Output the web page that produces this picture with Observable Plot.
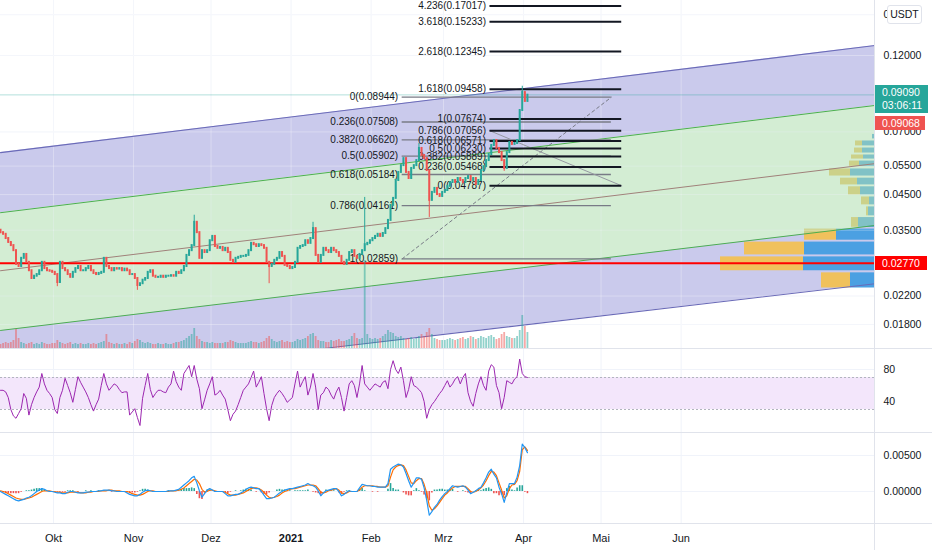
<!DOCTYPE html>
<html><head><meta charset="utf-8">
<script src="https://cdn.jsdelivr.net/npm/d3@7"></script>
<script src="https://cdn.jsdelivr.net/npm/@observablehq/plot@0.6"></script>
<style>
html,body{margin:0;padding:0;background:#fff;}
#wrap{position:relative;width:932px;height:550px;overflow:hidden;font-family:"Liberation Sans",Arial,sans-serif;}
.pane{position:absolute;left:0;overflow:hidden;}
.box{position:absolute;font-size:10.5px;line-height:13px;color:#fff;padding-left:7px;box-sizing:border-box;}
.sep{position:absolute;background:#e0e3eb;}
</style></head><body><div id="wrap"></div>
<script>
// ---------------- DATA ----------------
const firstDay = "2020-09-10";
const firstOpen = 0.0350;
const closes = [
0.0344,0.0340,0.0330,0.0321,0.0314,0.0303,0.0275,0.0271,0.0287,0.0295,
0.0279,0.0263,0.0249,0.0253,0.0256,0.0263,0.0279,0.0267,0.0263,0.0262,
0.0260,0.0256,0.0242,0.0279,0.0267,0.0263,0.0256,0.0251,0.0260,0.0267,
0.0271,0.0263,0.0263,0.0267,0.0271,0.0263,0.0258,0.0256,0.0258,0.0260,
0.0287,0.0271,0.0267,0.0263,0.0267,0.0266,0.0267,0.0263,0.0266,0.0263,
0.0256,0.0256,0.0249,0.0237,0.0240,0.0246,0.0249,0.0260,0.0263,0.0253,
0.0251,0.0251,0.0253,0.0251,0.0253,0.0253,0.0254,0.0253,0.0260,0.0258,
0.0263,0.0271,0.0293,0.0303,0.0314,0.0370,0.0344,0.0287,0.0303,0.0299,
0.0303,0.0325,0.0335,0.0312,0.0308,0.0310,0.0303,0.0308,0.0299,0.0283,
0.0279,0.0287,0.0289,0.0291,0.0291,0.0293,0.0303,0.0319,0.0316,0.0312,
0.0316,0.0314,0.0308,0.0279,0.0271,0.0275,0.0283,0.0287,0.0299,0.0291,
0.0273,0.0271,0.0267,0.0269,0.0279,0.0308,0.0312,0.0314,0.0325,0.0319,
0.0330,0.0354,0.0293,0.0279,0.0293,0.0308,0.0303,0.0299,0.0308,0.0303,
0.0299,0.0291,0.0279,0.0275,0.0283,0.0299,0.0303,0.0291,0.0287,0.0295,
0.0303,0.0316,0.0319,0.0325,0.0330,0.0335,0.0340,0.0335,0.0342,0.0354,
0.0375,0.0417,0.0438,0.0497,0.0526,0.0552,0.0580,0.0526,0.0504,0.0541,
0.0552,0.0572,0.0623,0.0593,0.0580,0.0533,0.0432,0.0457,0.0470,0.0450,
0.0444,0.0457,0.0463,0.0477,0.0490,0.0497,0.0490,0.0504,0.0497,0.0490,
0.0504,0.0511,0.0497,0.0504,0.0483,0.0497,0.0533,0.0548,0.0572,0.0597,
0.0636,0.0659,0.0623,0.0605,0.0572,0.0541,0.0605,0.0650,0.0641,0.0645,
0.0659,0.0814,0.0924,0.0868,0.0907];
const wickHighs = [["2020-11-24",0.0389],["2021-01-09",0.0370],["2021-01-29",0.0441],["2021-02-19",0.0645],["2021-03-31",0.0966]];
const wickLows = [["2020-10-02",0.0235],["2020-11-02",0.0229],["2020-12-23",0.0240],["2021-02-23",0.0383],["2021-03-24",0.0530]];
const volumes = [
4,5,6,5,6,8,19,10,6,5,4,5,6,4,5,4,6,5,4,4,5,
5,8,6,5,4,5,6,4,5,4,5,4,4,5,4,5,4,5,6,7,14,6,5,4,5,4,4,5,4,6,5,
7,9,8,6,5,6,5,4,4,5,4,4,5,4,4,5,6,6,7,8,10,12,14,20,12,9,7,6,6,5,
6,5,5,5,5,6,6,8,7,6,5,5,5,5,6,7,6,6,5,6,7,10,12,9,7,6,7,8,6,7,6,
6,7,9,8,9,10,12,14,15,12,8,7,7,6,6,8,7,8,9,7,7,8,9,12,15,10,9,10,88,14,10,
9,10,9,10,12,14,18,16,15,12,11,12,10,9,10,11,9,10,12,14,12,16,20,14,10,9,8,8,
8,9,10,9,8,9,10,11,9,10,12,11,9,10,12,11,10,12,13,11,9,10,14,16,12,11,10,10,12,18,33,22,16];
const rsi = [
54,54,52,45,30,22,19,25,31,50, 44,23,36,45,52,58,75,62,54,50,
45,30,25,45,54,69,60,51,39,55, 71,64,58,52,45,36,28,36,43,60,
75,62,54,58,62,60,55,51,52,52, 23,27,31,20,10,44,60,75,55,45,
50,54,54,52,51,58,62,78,65,58, 54,75,80,85,71,85,68,56,31,42,
54,62,71,48,50,54,48,43,30,16, 24,28,36,45,54,58,62,70,78,58,
64,71,50,31,16,35,45,50,54,50, 45,39,42,45,62,78,58,65,71,48,
58,75,58,30,48,51,58,55,48,43, 52,58,45,28,45,62,66,60,45,62,
85,62,58,54,58,62,60,58,64,66, 56,80,91,80,75,83,66,45,55,71,
60,58,55,51,40,19,30,36,40,45, 50,54,60,66,58,62,68,71,62,70,
75,51,40,34,50,62,71,60,54,78, 86,83,60,51,31,45,66,64,62,68,
71,93,75,71,70];
const macd = [
0.0000,-0.0002,-0.0004,-0.0006,-0.0008,-0.0010,-0.0012,-0.0013,-0.0012,-0.0011,
-0.0009,-0.0008,-0.0006,-0.0003,0.0000,0.0002,0.0004,0.0003,0.0001,0.0000,
0.0000,-0.0001,-0.0002,-0.0002,-0.0003,-0.0003,-0.0001,0.0000,0.0000,-0.0001,
-0.0002,-0.0002,-0.0002,-0.0001,-0.0001,0.0000,0.0000,0.0000,0.0001,0.0001,
0.0002,0.0002,0.0002,0.0001,0.0001,0.0000,0.0000,0.0000,0.0000,-0.0002,
-0.0004,-0.0005,-0.0006,-0.0006,-0.0004,-0.0001,0.0001,0.0002,0.0001,0.0000,
0.0000,0.0000,0.0000,0.0000,0.0000,0.0001,0.0001,0.0001,0.0002,0.0003,
0.0006,0.0009,0.0012,0.0015,0.0019,0.0021,0.0012,0.0001,-0.0008,-0.0003,
0.0002,0.0004,0.0002,0.0000,0.0000,0.0000,0.0000,-0.0003,-0.0006,-0.0006,
-0.0005,-0.0004,-0.0004,-0.0002,0.0000,0.0003,0.0005,0.0006,0.0005,0.0004,
0.0004,0.0000,-0.0005,-0.0010,-0.0010,-0.0009,-0.0008,-0.0005,-0.0002,0.0000,
0.0002,0.0003,0.0004,0.0004,0.0005,0.0006,0.0007,0.0008,0.0009,0.0011,
0.0009,0.0008,0.0006,0.0001,-0.0006,-0.0002,0.0001,0.0002,0.0003,0.0004,
0.0004,0.0000,-0.0006,-0.0004,-0.0001,0.0001,0.0000,0.0000,0.0000,0.0005,
0.0010,0.0009,0.0008,0.0008,0.0007,0.0007,0.0006,0.0006,0.0006,0.0006,
0.0011,0.0031,0.0034,0.0036,0.0038,0.0037,0.0034,0.0025,0.0015,0.0006,
0.0012,0.0019,0.0019,0.0017,0.0005,-0.0012,-0.0033,-0.0028,-0.0022,-0.0018,
-0.0012,-0.0007,-0.0003,0.0000,0.0004,0.0008,0.0007,0.0006,0.0007,0.0008,
0.0006,0.0002,-0.0003,-0.0001,0.0001,0.0004,0.0006,0.0012,0.0019,0.0027,
0.0031,0.0024,0.0019,0.0006,-0.0003,-0.0015,-0.0002,0.0011,0.0011,0.0011,
0.0020,0.0036,0.0066,0.0061,0.0054];
const signal = [
0.0001,0.0000,-0.0001,-0.0003,-0.0005,-0.0007,-0.0009,-0.0010,-0.0011,-0.0011,
-0.0010,-0.0009,-0.0008,-0.0006,-0.0004,-0.0002,0.0000,0.0001,0.0001,0.0001,
0.0000,0.0000,-0.0001,-0.0001,-0.0002,-0.0002,-0.0002,-0.0001,-0.0001,-0.0001,
-0.0001,-0.0002,-0.0002,-0.0002,-0.0001,-0.0001,0.0000,0.0000,0.0000,0.0001,
0.0001,0.0001,0.0002,0.0002,0.0001,0.0001,0.0001,0.0000,0.0000,0.0000,
-0.0001,-0.0003,-0.0004,-0.0005,-0.0005,-0.0004,-0.0002,0.0000,0.0001,0.0001,
0.0000,0.0000,0.0000,0.0000,0.0000,0.0000,0.0001,0.0001,0.0001,0.0002,
0.0003,0.0005,0.0008,0.0011,0.0014,0.0017,0.0016,0.0011,0.0003,-0.0001,
0.0000,0.0002,0.0002,0.0001,0.0000,0.0000,0.0000,-0.0001,-0.0003,-0.0005,
-0.0005,-0.0005,-0.0004,-0.0003,-0.0002,0.0000,0.0002,0.0004,0.0005,0.0005,
0.0004,0.0002,-0.0001,-0.0005,-0.0008,-0.0009,-0.0008,-0.0007,-0.0005,-0.0002,
0.0000,0.0001,0.0003,0.0004,0.0004,0.0005,0.0006,0.0007,0.0008,0.0009,
0.0009,0.0009,0.0008,0.0004,-0.0001,-0.0002,-0.0001,0.0001,0.0002,0.0003,
0.0004,0.0002,-0.0002,-0.0003,-0.0002,0.0000,0.0000,0.0000,0.0000,0.0002,
0.0006,0.0008,0.0008,0.0008,0.0008,0.0007,0.0007,0.0006,0.0006,0.0006,
0.0008,0.0020,0.0030,0.0034,0.0036,0.0037,0.0036,0.0030,0.0021,0.0012,
0.0011,0.0015,0.0018,0.0018,0.0010,-0.0002,-0.0020,-0.0026,-0.0024,-0.0020,
-0.0015,-0.0010,-0.0005,-0.0002,0.0002,0.0005,0.0007,0.0007,0.0007,0.0007,
0.0007,0.0004,0.0000,-0.0001,0.0000,0.0002,0.0005,0.0009,0.0015,0.0022,
0.0028,0.0027,0.0022,0.0012,0.0002,-0.0009,-0.0006,0.0004,0.0009,0.0010,
0.0015,0.0028,0.0058,0.0062,0.0057];

// channel (left end, right end)
const chanDates = ["2020-09-10T12:00Z","2021-08-15T06:00Z"];
const chanTop = [0.0605, 0.1288];
const chanGreenTop = [0.0396, 0.0844];
const chanMid = [0.0263, 0.0560];
const chanGreenBot = [0.01726, 0.0362];
const chanBottom = [0.01163, 0.0240];

// volume profile rows
const profLow  = [0.0232,0.0262,0.0293,0.0325,0.0356,0.0386,0.0417,0.0447,0.0480,0.0511,0.0546,0.0576,0.0601,0.0632,0.0664];
const profHigh = [0.0260,0.0291,0.0323,0.0354,0.0384,0.0414,0.0444,0.0477,0.0507,0.0541,0.0572,0.0597,0.0627,0.0659,0.0690];
const profUp   = [25,72,71,39,17,7,6,15,18,25,16,12,13,13,3];
const profDown = [29,83,60,32,7,2,8,12,17,21,10,12,8,7,0];

// fibonacci
const retraceLevels = ["0","0.236","0.382","0.5","0.618","0.786","1"];
const retracePrices = [0.08944,0.07508,0.06620,0.05902,0.05184,0.04161,0.02859];
const retraceSpan = ["2021-02-13","2021-05-05"];
const extLevels = ["4.236","3.618","2.618","1.618","1","0.786","0.618","0.5","0.382","0.236","0"];
const extPrices = [0.17017,0.15233,0.12345,0.09458,0.07674,0.07056,0.06571,0.06230,0.05889,0.05468,0.04787];
const extSpan = ["2021-03-19","2021-05-09"];
const retraceDiag = [["2021-02-13",0.02859],["2021-05-05",0.08944]];
const extDiag = [["2021-03-19",0.07056],["2021-05-09",0.04787]];

const lastPrice = 0.09090, prevPrice = 0.09068, countdown = "03:06:11";
const hLine = 0.02770;
const priceTicks = [0.16,0.12,0.07,0.055,0.045,0.035,0.022,0.018];
const rsiTicks = [80,40];
const rsiBand = [30,70];
const macdTicks = [0.005,0];
const monthDates = ["2020-10-01","2020-11-01","2020-12-01","2021-01-01","2021-02-01","2021-03-01","2021-04-01","2021-05-01","2021-06-01"];
const monthLabels = ["Okt","Nov","Dez","2021","Feb","Mrz","Apr","Mai","Jun"];

// ---------------- BUILD ----------------
const W = 932, MR = 57;
const xDomain = [new Date("2020-09-10T12:00Z"), new Date("2021-08-15T06:00Z")];
const fmtDay = d3.utcFormat("%Y-%m-%d");
const hiMap = new Map(wickHighs), loMap = new Map(wickLows);
const t0 = new Date(firstDay + "T12:00Z");
const candles = closes.map((c,i)=>{
  const date = d3.utcDay.offset(t0, i);
  const open = i===0 ? firstOpen : closes[i-1];
  const key = fmtDay(date);
  return {date, open, close:c,
    high: hiMap.has(key) ? hiMap.get(key) : Math.max(open,c),
    low: loMap.has(key) ? loMap.get(key) : Math.min(open,c),
    vol: volumes[i], rsi: rsi[i], macd: macd[i], signal: signal[i], hist: macd[i]-signal[i]};
});
const up = "#26a69a", down = "#ef5350";
const cCol = d => d.close >= d.open ? up : down;
const vCol = d => d.close >= d.open ? "rgba(38,166,154,0.5)" : "rgba(239,83,80,0.5)";

const chan = chanDates.map((d,i)=>({date:new Date(d), top:chanTop[i], gtop:chanGreenTop[i], mid:chanMid[i], gbot:chanGreenBot[i], bot:chanBottom[i]}));
const msPerUnit = (xDomain[1]-xDomain[0]) / 875; // profile width unit
const xEnd = +xDomain[1];
const prof = profLow.map((lo,i)=>({lo, hi:profHigh[i],
  bx1:new Date(xEnd - profUp[i]*msPerUnit), bx2:new Date(xEnd),
  yx1:new Date(xEnd - (profUp[i]+profDown[i])*msPerUnit), yx2:new Date(xEnd - profUp[i]*msPerUnit)}));
const retrace = retraceLevels.map((l,i)=>({p:retracePrices[i], label:`${l}(${retracePrices[i].toFixed(5)})`, a:new Date(retraceSpan[0]), b:new Date(retraceSpan[1])}));
const ext = extLevels.map((l,i)=>({p:extPrices[i], label:`${l}(${extPrices[i].toFixed(5)})`, a:new Date(extSpan[0]), b:new Date(extSpan[1])}));
const months = monthDates.map((d,i)=>({date:new Date(d), label:monthLabels[i]}));
const mDates = months.map(m=>m.date);

const baseStyle = {background:"transparent", fontFamily:"'Liberation Sans',Arial,sans-serif", fontSize:"10.5px", color:"#131722", overflow:"hidden"};
const xOpt = {type:"utc", domain:xDomain, axis:null};

const main = Plot.plot({
  width:W, height:348, marginLeft:0, marginRight:MR, marginTop:0, marginBottom:0,
  x:xOpt, y:{type:"log", domain:[0.015196,0.17686], axis:null}, style:baseStyle,
  marks:[
    Plot.ruleY(priceTicks,{stroke:"#f0f3fa"}),
    Plot.ruleX(mDates,{stroke:"#f0f3fa"}),
    Plot.areaY(chan,{x:"date", y1:"top", y2:"gtop", fill:"#cacaec", clip:true}),
    Plot.areaY(chan,{x:"date", y1:"gbot", y2:"bot", fill:"#cacaec", clip:true}),
    Plot.rect(prof,{x1:"yx1", x2:"yx2", y1:"lo", y2:"hi", fill:"#f0c15c", insetTop:0.5, insetBottom:0.5}),
    Plot.rect(prof,{x1:"bx1", x2:"bx2", y1:"lo", y2:"hi", fill:"#4ba0e2", insetTop:0.5, insetBottom:0.5}),
    Plot.areaY(chan,{x:"date", y1:"gtop", y2:"gbot", fill:"rgb(175,222,175)", fillOpacity:0.55, clip:true}),
    Plot.ruleX(mDates,{stroke:"#ffffff", strokeOpacity:0.3}),
    Plot.ruleY(priceTicks,{stroke:"#ffffff", strokeOpacity:0.3}),
    Plot.line(chan,{x:"date", y:"top", stroke:"#6a6ab8", strokeWidth:1.1, clip:true}),
    Plot.line(chan,{x:"date", y:"bot", stroke:"#6a6ab8", strokeWidth:1.1, clip:true}),
    Plot.line(chan,{x:"date", y:"gtop", stroke:"#4caf50", strokeWidth:1, clip:true}),
    Plot.line(chan,{x:"date", y:"gbot", stroke:"#4caf50", strokeWidth:1, clip:true}),
    Plot.line(chan,{x:"date", y:"mid", stroke:"#a0817a", strokeWidth:1, clip:true}),
    Plot.ruleY([lastPrice],{stroke:"#26a69a", strokeOpacity:0.35}),
    Plot.ruleY([hLine],{stroke:"#ff0000", strokeWidth:2}),
    // fib retracement
    Plot.line(retraceDiag,{x:d=>new Date(d[0]), y:d=>d[1], stroke:"#787b86", strokeWidth:1, strokeDasharray:"3,3"}),
    Plot.ruleY(retrace,{x1:"a", x2:"b", y:"p", stroke:"#787b86", strokeWidth:1.3}),
    Plot.text(retrace,{x:"a", y:"p", text:"label", textAnchor:"end", dx:-4, fill:"#131722", fontSize:10}),
    // fib extension
    Plot.line(extDiag,{x:d=>new Date(d[0]), y:d=>d[1], stroke:"#9598a1", strokeWidth:1}),
    Plot.ruleY(ext,{x1:"a", x2:"b", y:"p", stroke:"#131722", strokeWidth:2}),
    Plot.text(ext,{x:"a", y:"p", text:"label", textAnchor:"end", dx:-4, fill:"#131722", fontSize:10}),
    // candles
    Plot.ruleX(candles,{x:"date", y1:"low", y2:"high", stroke:cCol, strokeWidth:1}),
    Plot.ruleX(candles,{x:"date", y1:"open", y2:"close", stroke:cCol, strokeWidth:2, strokeLinecap:"square"}),
    Plot.axisY({anchor:"right", ticks:priceTicks, tickFormat:d3.format(".5f"), tickSize:0, tickPadding:8, label:null})
  ]
});

const volPlot = Plot.plot({
  width:W, height:348, marginLeft:0, marginRight:MR, marginTop:248, marginBottom:0,
  x:xOpt, y:{domain:[0,100], axis:null}, style:baseStyle,
  marks:[Plot.ruleX(candles,{x:"date", y1:()=>0, y2:"vol", stroke:vCol, strokeWidth:1.8})]
});

const rsiPlot = Plot.plot({
  width:W, height:83, marginLeft:0, marginRight:MR, marginTop:0, marginBottom:0,
  x:xOpt, y:{domain:[1.25,105], axis:null}, style:baseStyle,
  marks:[
    Plot.ruleX(mDates,{stroke:"#f0f3fa"}),
    Plot.ruleY(rsiTicks,{stroke:"#f0f3fa"}),
    Plot.rect([{a:xDomain[0], b:xDomain[1]}],{x1:"a", x2:"b", y1:()=>rsiBand[0], y2:()=>rsiBand[1], fill:"#f3e6fb"}),
    Plot.ruleY(rsiBand,{stroke:"#b2b5be", strokeDasharray:"2,2"}),
    Plot.line(candles,{x:"date", y:"rsi", stroke:"#9c27b0", strokeWidth:1}),
    Plot.axisY({anchor:"right", ticks:rsiTicks, tickFormat:d3.format("d"), tickSize:0, tickPadding:8, label:null})
  ]
});

const macdPlot = Plot.plot({
  width:W, height:90, marginLeft:0, marginRight:MR, marginTop:0, marginBottom:0,
  x:xOpt, y:{domain:[-0.004444,0.008056], axis:null}, style:baseStyle,
  marks:[
    Plot.ruleX(mDates,{stroke:"#f0f3fa"}),
    Plot.ruleY(macdTicks,{stroke:"#f0f3fa"}),
    Plot.ruleX(candles,{x:"date", y1:()=>0, y2:"hist", stroke:d=>d.hist>=0?"#26a69a":"#ef5350", strokeWidth:1.6}),
    Plot.line(candles,{x:"date", y:"signal", stroke:"#ff6d00", strokeWidth:1.2}),
    Plot.line(candles,{x:"date", y:"macd", stroke:"#2196f3", strokeWidth:1.2}),
    Plot.axisY({anchor:"right", ticks:macdTicks, tickFormat:d3.format(".5f"), tickSize:0, tickPadding:8, label:null})
  ]
});

const axisPlot = Plot.plot({
  width:W, height:27, marginLeft:0, marginRight:MR, marginTop:0, marginBottom:0,
  x:xOpt, y:{axis:null}, style:baseStyle,
  marks:[
    Plot.text(months.filter(m=>m.label!=="2021"),{x:"date", text:"label", frameAnchor:"middle", fill:"#131722", fontSize:11}),
    Plot.text(months.filter(m=>m.label==="2021"),{x:"date", text:"label", frameAnchor:"middle", fill:"#131722", fontSize:11, fontWeight:"bold"})
  ]
});

const wrap = document.getElementById("wrap");
function pane(el, top, h){ const d=document.createElement("div"); d.className="pane"; d.style.top=top+"px"; d.style.height=h+"px"; d.style.width=W+"px"; d.appendChild(el); wrap.appendChild(d); return d; }
pane(main,0,348);
const vp = pane(volPlot,0,348); vp.style.pointerEvents="none";
pane(rsiPlot,349,83);
pane(macdPlot,433,90);
pane(axisPlot,524,26);
function sep(l,t,w,h){ const d=document.createElement("div"); d.className="sep"; Object.assign(d.style,{left:l+"px",top:t+"px",width:w+"px",height:h+"px"}); wrap.appendChild(d); }
sep(0,348,W,1); sep(0,432,W,1); sep(0,523,W,1); sep(874,0,1,550);

const ys = main.scale("y");
function box(txt, top, h, w, bg){ const d=document.createElement("div"); d.className="box"; Object.assign(d.style,{left:"875px",top:top+"px",height:h+"px",width:w+"px",background:bg,paddingTop:"1px"}); d.innerHTML=txt; wrap.appendChild(d); }
const yl = ys.apply(lastPrice);
box(d3.format(".5f")(lastPrice)+"<br>"+countdown, Math.round(yl-9), 28, 53, "#26a69a");
box(d3.format(".5f")(prevPrice), Math.round(yl+22), 14, 50, "#ef5350");
const yh = ys.apply(hLine);
box(d3.format(".5f")(hLine), Math.round(yh-7), 14, 52, "#ff0000");
const u = document.createElement("div");
Object.assign(u.style,{position:"absolute",left:"887px",top:"5px",width:"35px",height:"19px",background:"#fff",border:"1px solid #e0e3eb",borderRadius:"3px",fontSize:"10.5px",lineHeight:"17px",textAlign:"center",color:"#131722",boxSizing:"border-box"});
u.textContent="USDT"; wrap.appendChild(u);
</script></body></html>
